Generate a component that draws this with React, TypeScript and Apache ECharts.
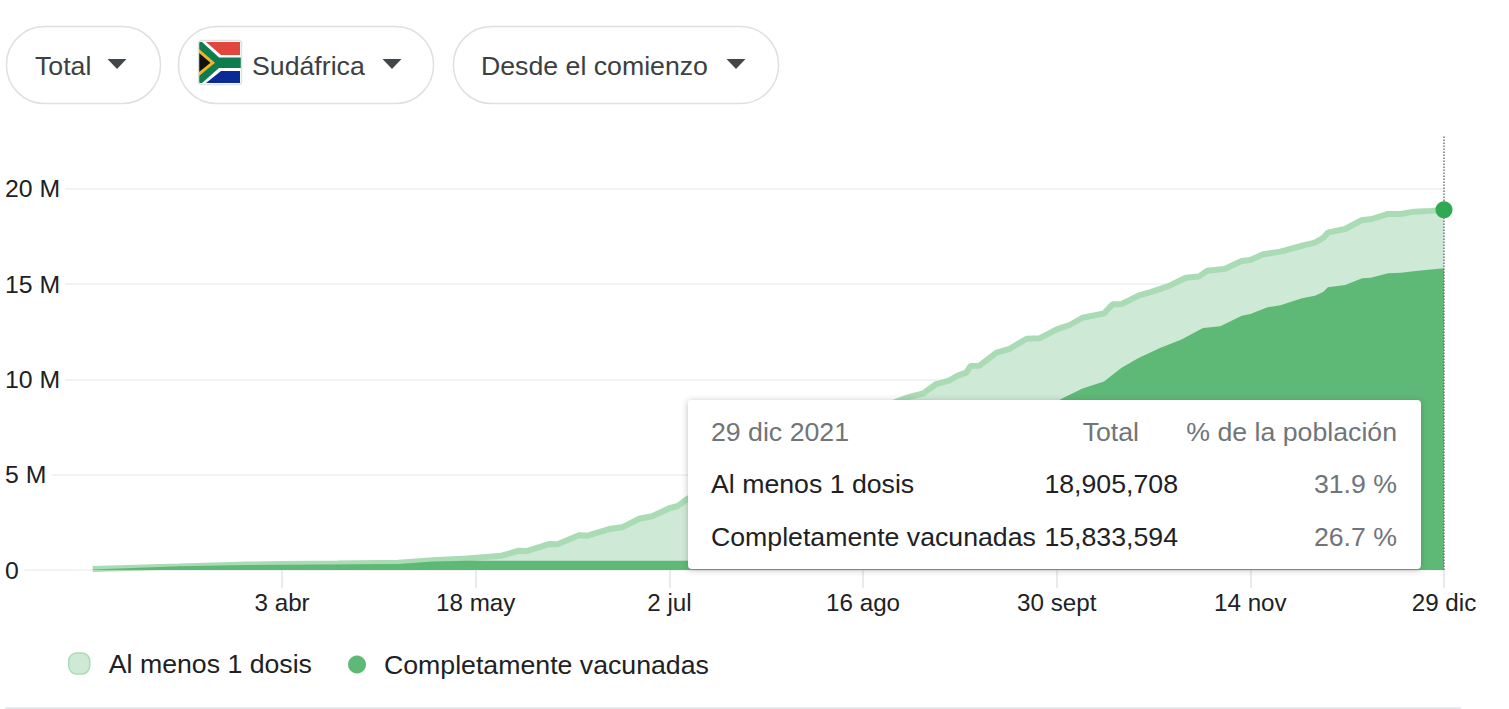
import React, { useEffect, useRef } from "react";
import * as echarts from "echarts";

// Days are counted from 18 Feb 2021.
const doseDays = [0, 20, 36, 44, 57, 71, 79, 87, 95, 99, 101, 106, 108, 113, 115, 120, 123, 127, 130, 134, 136, 138, 143, 148, 153, 158, 163, 168, 173, 178, 183, 188, 190, 193, 196, 199, 201, 203, 204, 206, 210, 213, 217, 220, 224, 227, 230, 235, 237, 239, 243, 246, 250, 254, 257, 259, 263, 267, 269, 272, 276, 281, 284, 286, 287, 291, 295, 297, 301, 304, 307, 311, 314];
const doseValues = [0.05, 0.18, 0.29, 0.31, 0.34, 0.38, 0.51, 0.61, 0.75, 1.01, 1.0, 1.36, 1.35, 1.82, 1.8, 2.15, 2.24, 2.69, 2.82, 3.24, 3.36, 3.71, 4.3, 4.8, 5.4, 6.0, 6.6, 7.1, 7.6, 8.0, 8.5, 8.95, 9.1, 9.27, 9.76, 9.94, 10.2, 10.36, 10.71, 10.72, 11.41, 11.6, 12.14, 12.16, 12.63, 12.86, 13.24, 13.47, 13.95, 13.95, 14.4, 14.6, 14.9, 15.34, 15.4, 15.71, 15.8, 16.22, 16.27, 16.57, 16.71, 17.02, 17.18, 17.44, 17.71, 17.9, 18.37, 18.41, 18.69, 18.69, 18.81, 18.85, 18.905708];
const fullDays = [0, 20, 36, 44, 71, 79, 87, 138, 143, 155, 167, 178, 190, 202, 213, 220, 225, 230, 235, 239, 243, 248, 253, 258, 262, 267, 269, 273, 276, 281, 284, 286, 287, 291, 295, 297, 301, 304, 308, 314];
const fullValues = [0.03, 0.2, 0.26, 0.27, 0.31, 0.44, 0.49, 0.49, 0.6, 1.3, 2.5, 3.8, 5.2, 6.4, 7.5, 8.2, 8.98, 9.53, 9.89, 10.6, 11.13, 11.65, 12.1, 12.7, 12.8, 13.35, 13.44, 13.79, 13.9, 14.26, 14.4, 14.6, 14.84, 14.96, 15.31, 15.34, 15.57, 15.6, 15.71, 15.833594];
const tickDays = [44, 89, 134, 179, 224, 269, 314];
const tickLabels = ["3 abr", "18 may", "2 jul", "16 ago", "30 sept", "14 nov", "29 dic"];
const yTicks = [0, 5, 10, 15, 20];
const yLabels = ["0", "5 M", "10 M", "15 M", "20 M"];
const doseName = "Al menos 1 dosis";
const fullName = "Completamente vacunadas";
const tipDate = "29 dic 2021";
const tipTotalHead = "Total";
const tipShareHead = "% de la población";
const tipDoseTotal = "18,905,708";
const tipFullTotal = "15,833,594";
const tipDoseShare = "31.9 %";
const tipFullShare = "26.7 %";
const filters = ["Total", "Sudáfrica", "Desde el comienzo"];

const pairs = (d: number[], v: number[]) => d.map((n, i) => [n, v[i] * 1e6]);

const FONT = '"Liberation Sans", Arial, sans-serif';
const DARK = "#202124";
const GREY = "#70757a";
const BIG = 26.7;
const ROUND_ICON = "path://M8,0 H13 A8,8 0 0 1 21,8 V13 A8,8 0 0 1 13,21 H8 A8,8 0 0 1 0,13 V8 A8,8 0 0 1 8,0 Z";

function txt(x: number, y: number, text: string, fill: string, size: number, align = "left") {
  return {
    type: "text", x, y, z: 101, silent: true,
    style: { text, fill, font: `${size}px ${FONT}`, textAlign: align, textVerticalAlign: "middle" },
  };
}
function pill(x: number, w: number) {
  return {
    type: "rect", z: 100, silent: true,
    shape: { x: x + 0.5, y: 26.5, width: w, height: 77, r: 38 },
    style: { fill: "#fff", stroke: "#e0e0e0", lineWidth: 1.5 },
  };
}
function caret(x: number, y: number) {
  return {
    type: "polygon", z: 101, silent: true,
    shape: { points: [[x, y], [x + 19, y], [x + 9.5, y + 10]] },
    style: { fill: "#444749" },
  };
}
function poly(points: number[][], fill: string) {
  return { type: "polygon", z: 102, silent: true, shape: { points }, style: { fill } };
}
function flag() {
  return {
    type: "group", x: 199, y: 41, z: 102,
    children: [
      { type: "rect", z: 102, silent: true, shape: { x: 0, y: 0, width: 42, height: 43, r: 3 }, style: { fill: "#fff" } },
      poly([[7, 1], [41, 1], [41, 14], [22, 14]], "#e0463c"),
      poly([[7, 42], [41, 42], [41, 30], [22, 30]], "#0a2a96"),
      poly([[0, 1], [3, 1], [20, 16.5], [42, 16.5], [42, 27], [20, 27], [3, 42], [0, 42]], "#0f7c50"),
      poly([[0, 8], [16, 21.7], [0, 35]], "#f0b429"),
      poly([[0, 12], [11.5, 21.7], [0, 31]], "#111111"),
      { type: "rect", z: 103, silent: true, shape: { x: -0.5, y: -0.5, width: 43, height: 44, r: 3 }, style: { fill: "none", stroke: "#dfe1e5", lineWidth: 1.5 } },
    ],
  };
}

export default function App() {
  const ref = useRef<HTMLDivElement>(null);
  useEffect(() => {
    const chart = echarts.init(ref.current!, undefined, { renderer: "svg" });
    const lastDay = doseDays[doseDays.length - 1];
    const lastDose = doseValues[doseValues.length - 1] * 1e6;
    chart.setOption({
      animation: false,
      backgroundColor: "#fff",
      textStyle: { fontFamily: FONT },
      grid: { left: 5, right: 65, top: 136, bottom: 139, containLabel: false },
      xAxis: {
        type: "value",
        min: -20.39,
        max: lastDay,
        axisLine: { show: false },
        splitLine: { show: false },
        axisTick: { show: true, length: 18, lineStyle: { color: "#e8eaed", width: 2 }, customValues: tickDays },
        axisLabel: {
          customValues: tickDays,
          margin: 20,
          color: DARK,
          fontSize: 24.2,
          fontFamily: FONT,
          hideOverlap: false,
          formatter: (v: number) => tickLabels[tickDays.indexOf(v)] ?? "",
        },
      },
      yAxis: {
        type: "value",
        min: 0,
        max: 22.78e6,
        axisLine: { show: false },
        axisTick: { show: false, customValues: yTicks.map((t) => t * 1e6) },
        splitLine: { show: true, lineStyle: { color: "#f1f3f4", width: 2 } },
        axisLabel: {
          inside: true,
          customValues: yTicks.map((t) => t * 1e6),
          margin: 0,
          align: "left",
          color: DARK,
          fontSize: 24.8,
          fontFamily: FONT,
          backgroundColor: "#fff",
          padding: [2, 5, 2, 0],
          formatter: (v: number) => yLabels[yTicks.indexOf(v / 1e6)] ?? "",
        },
      },
      legend: [
        {
          left: 68, top: 650, padding: 0, itemWidth: 21, itemHeight: 21, icon: ROUND_ICON,
          data: [{ name: doseName, icon: ROUND_ICON, itemStyle: { color: "#cfe9d7", borderColor: "#a9dbb5", borderWidth: 1.5 } }],
          textStyle: { color: DARK, fontSize: BIG, fontFamily: FONT, padding: [0, 0, 0, 14] },
          selectedMode: false,
        },
        {
          left: 348, top: 651, padding: 0, itemWidth: 18, itemHeight: 18, icon: "circle",
          data: [{ name: fullName, icon: "circle", itemStyle: { color: "#5db975", borderWidth: 0 } }],
          textStyle: { color: DARK, fontSize: BIG, fontFamily: FONT, padding: [0, 0, 0, 13] },
          selectedMode: false,
        },
      ],
      series: [
        {
          name: doseName,
          type: "line",
          data: pairs(doseDays, doseValues),
          showSymbol: false,
          smooth: false,
          lineStyle: { color: "#a9dbb5", width: 6 },
          itemStyle: { color: "#cfe9d7" },
          areaStyle: { color: "#cfe9d7", opacity: 1 },
          z: 2,
        },
        {
          name: fullName,
          type: "line",
          data: pairs(fullDays, fullValues),
          showSymbol: false,
          smooth: false,
          lineStyle: { width: 0, color: "#5db975" },
          itemStyle: { color: "#5db975" },
          areaStyle: { color: "#5db975", opacity: 1 },
          z: 3,
          markLine: {
            silent: true,
            symbol: "none",
            label: { show: false },
            lineStyle: { color: GREY, type: "dotted", width: 1.5 },
            data: [{ xAxis: lastDay }],
          },
          markPoint: {
            silent: true,
            symbol: "circle",
            symbolSize: 17,
            itemStyle: { color: "#2fa952" },
            label: { show: false },
            data: [{ coord: [lastDay, lastDose] }],
          },
        },
      ],
      graphic: {
        elements: [
          pill(6, 154),
          pill(178, 255),
          pill(453, 325),
          txt(35, 66, filters[0], "#3c4043", BIG),
          txt(252, 66, filters[1], "#3c4043", BIG),
          txt(481, 66, filters[2], "#3c4043", BIG),
          caret(107.5, 59),
          caret(382.5, 59),
          caret(726.5, 59),
          flag(),
          {
            type: "rect", z: 100, silent: true,
            shape: { x: 688, y: 400, width: 733, height: 169, r: 4 },
            style: { fill: "#fff", shadowBlur: 6, shadowColor: "rgba(60,64,67,0.35)", shadowOffsetY: 1 },
          },
          txt(711, 432, tipDate, GREY, BIG),
          txt(1139, 432, tipTotalHead, GREY, BIG, "right"),
          txt(1397, 432, tipShareHead, GREY, BIG, "right"),
          txt(711, 484, doseName, DARK, BIG),
          txt(1178, 484, tipDoseTotal, DARK, BIG, "right"),
          txt(1397, 484, tipDoseShare, GREY, BIG, "right"),
          txt(711, 537, fullName, DARK, BIG),
          txt(1178, 537, tipFullTotal, DARK, BIG, "right"),
          txt(1397, 537, tipFullShare, GREY, BIG, "right"),
          {
            type: "rect", z: 100, silent: true,
            shape: { x: 5, y: 707, width: 1456, height: 2 },
            style: { fill: "#e8eaed" },
          },
        ],
      },
    });
    return () => chart.dispose();
  }, []);
  return <div ref={ref} style={{ position: "fixed", left: 0, top: 0, width: 1509, height: 709 }} />;
}
